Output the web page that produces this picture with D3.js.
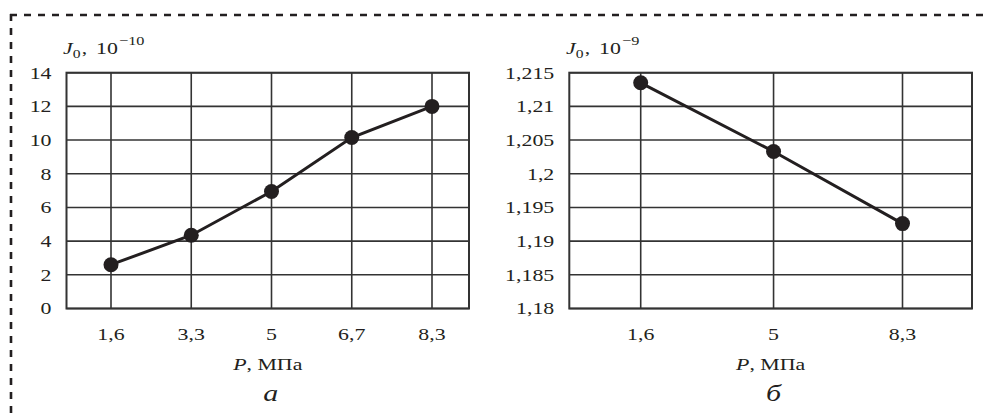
<!DOCTYPE html>
<html>
<head>
<meta charset="utf-8">
<script src="https://cdn.jsdelivr.net/npm/d3@7"></script>
<style>
  html, body { margin: 0; padding: 0; background: #fff; }
  svg { display: block; }
  text { font-family: "Liberation Serif", "Times New Roman", serif; fill: #231f20; }
</style>
</head>
<body>
<svg id="chart" width="984" height="417"></svg>
<script>
// Exchange current density J0 versus pressure P
const pressureA = ["1,6", "3,3", "5", "6,7", "8,3"];
const currentA = [2.6, 4.35, 6.95, 10.15, 12.0];          // ×10^-10
const yTicksA = [0, 2, 4, 6, 8, 10, 12, 14];

const pressureB = [1.6, 5, 8.3];
const currentB = [1.2135, 1.2033, 1.1926];                 // ×10^-9
const yTicksB = [1.18, 1.185, 1.19, 1.195, 1.2, 1.205, 1.21, 1.215];

const ruLocale = d3.formatLocale({ decimal: ",", thousands: " ", grouping: [3], currency: ["", ""] });
const fmt = ruLocale.format("~g");

const ink = "#231f20";
const gridColor = "#333";
const stretch = 1.25;   // wide typeface proportions
const svg = d3.select("#chart");

// place a text element at (x, y) with the wide type proportions
function at(sel, x, y) {
  return sel.attr("transform", `translate(${x},${y}) scale(${stretch},1)`);
}

// dashed frame around the figure (top and left edges)
const frame = svg.append("g")
  .attr("fill", "none").attr("stroke", ink)
  .attr("stroke-width", 2.6).attr("stroke-dasharray", "7 7");
frame.append("line").attr("x1", 10).attr("y1", 15).attr("x2", 1000).attr("y2", 15);
frame.append("line").attr("x1", 11).attr("y1", 14).attr("x2", 11).attr("y2", 430);

function panel(opts) {
  const { box, x, cats, values, yDomain, yTicks, yExp, yLabelX, letter } = opts;
  const g = svg.append("g");
  const y = d3.scaleLinear().domain(yDomain).range([box.y1, box.y0]);

  // horizontal grid
  g.append("g").selectAll("line").data(yTicks).join("line")
    .attr("x1", box.x0).attr("x2", box.x1)
    .attr("y1", d => y(d)).attr("y2", d => y(d))
    .attr("stroke", gridColor).attr("stroke-width", 1.6);
  // vertical grid at each pressure
  g.append("g").selectAll("line").data(cats).join("line")
    .attr("x1", d => x(d)).attr("x2", d => x(d))
    .attr("y1", box.y0).attr("y2", box.y1)
    .attr("stroke", gridColor).attr("stroke-width", 1.6);
  // plot frame
  g.append("rect")
    .attr("x", box.x0).attr("y", box.y0)
    .attr("width", box.x1 - box.x0).attr("height", box.y1 - box.y0)
    .attr("fill", "none").attr("stroke", gridColor).attr("stroke-width", 2);

  // y tick labels
  g.append("g").selectAll("text").data(yTicks).join("text")
    .each(function (d) { at(d3.select(this), box.x0 - 15, y(d)); })
    .attr("dy", "0.34em").attr("text-anchor", "end")
    .attr("font-size", 17.5).text(d => fmt(d));

  // x tick labels
  g.append("g").selectAll("text").data(cats).join("text")
    .each(function (d) { at(d3.select(this), x(d), 340); })
    .attr("text-anchor", "middle").attr("font-size", 17.5)
    .text(d => typeof d === "number" ? fmt(d) : d);

  // series line and markers
  const pts = cats.map((c, i) => [x(c), y(values[i])]);
  g.append("path").datum(pts)
    .attr("d", d3.line())
    .attr("fill", "none").attr("stroke", ink).attr("stroke-width", 3);
  g.append("g").selectAll("circle").data(pts).join("circle")
    .attr("cx", d => d[0]).attr("cy", d => d[1]).attr("r", 7.5)
    .attr("fill", ink);

  // y axis title: J0, 10^exp
  const t = at(g.append("text"), yLabelX, 54).attr("font-size", 17.5);
  t.append("tspan").attr("font-style", "italic").text("J");
  t.append("tspan").attr("font-size", 12.5).attr("dy", 4).text("0");
  t.append("tspan").attr("dy", -4).attr("dx", 1).text(",");
  t.append("tspan").attr("dx", 7).text("10");
  t.append("tspan").attr("font-size", 13).attr("dy", -9).attr("dx", 1).text(yExp);

  // x axis title
  const cx = (box.x0 + box.x1) / 2;
  const xt = at(g.append("text"), cx, 370)
    .attr("text-anchor", "middle").attr("font-size", 17.5);
  xt.append("tspan").attr("font-style", "italic").text("P");
  xt.append("tspan").text(", МПа");

  // panel letter
  at(g.append("text"), cx + 3, 401)
    .attr("text-anchor", "middle").attr("font-size", 24)
    .attr("font-style", "italic").text(letter);
}

const boxA = { x0: 66.5, x1: 469, y0: 72.7, y1: 308.5 };
const xA = d3.scalePoint().domain(pressureA).range([111, 432]);
panel({ box: boxA, x: xA, cats: pressureA, values: currentA,
        yDomain: [0, 14], yTicks: yTicksA, yExp: "−10", yLabelX: 63, letter: "а" });

const boxB = { x0: 569.3, x1: 972, y0: 72.7, y1: 308.5 };
const xB = d3.scaleLinear().domain([1.6, 8.3]).range([640.7, 902.5]);
panel({ box: boxB, x: xB, cats: pressureB, values: currentB,
        yDomain: [1.18, 1.215], yTicks: yTicksB, yExp: "−9", yLabelX: 566, letter: "б" });
</script>
</body>
</html>
